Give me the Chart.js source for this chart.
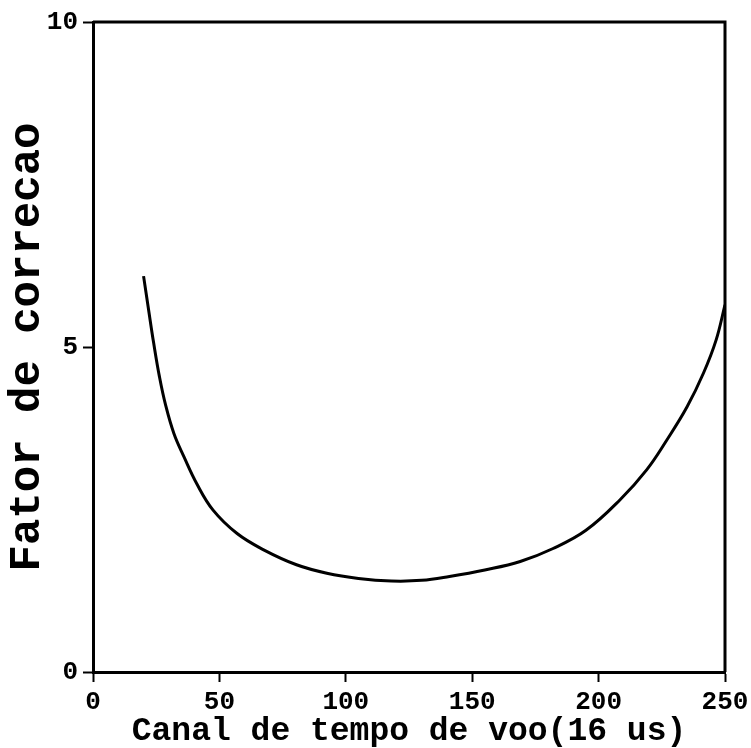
<!DOCTYPE html>
<html>
<head>
<meta charset="utf-8">
<script src="https://cdn.jsdelivr.net/npm/chart.js@4/dist/chart.umd.min.js"></script>
<style>
  html, body { margin: 0; padding: 0; background: #fff; }
  #wrap { width: 751px; height: 748px; position: relative; }
</style>
</head>
<body>
<div id="wrap"><canvas id="c" width="751" height="748"></canvas></div>
<script>
// Data
const channel = [20, 22, 24, 26.3, 28.7, 32, 36, 41, 47.5, 57, 67.5, 80.5, 92.5, 105, 118, 130, 141, 155, 169, 182, 195, 208.5, 219, 227, 235, 241.5, 246.5, 250];
const factor  = [6.09, 5.57, 5.06, 4.54, 4.11, 3.67, 3.31, 2.90, 2.49, 2.13, 1.88, 1.65, 1.52, 1.44, 1.40, 1.41, 1.47, 1.57, 1.70, 1.90, 2.18, 2.65, 3.11, 3.57, 4.08, 4.60, 5.11, 5.65];
const xTicks = [0, 50, 100, 150, 200, 250];
const yTicks = [0, 5, 10];
const xTitle = 'Canal de tempo de voo(16 us)';
const yTitle = 'Fator de correcao';

const points = channel.map((x, i) => ({ x: x, y: factor[i] }));

const framePlugin = {
  id: 'frame',
  afterDraw(chart) {
    const { ctx, chartArea: a } = chart;
    ctx.save();
    ctx.strokeStyle = '#000';
    ctx.lineWidth = 3;
    ctx.beginPath();
    ctx.moveTo(a.left, a.top);
    ctx.lineTo(a.right, a.top);
    ctx.lineTo(a.right, a.bottom);
    ctx.stroke();
    ctx.restore();
  }
};

const FONT = "'Liberation Mono', 'Courier New', monospace";

new Chart(document.getElementById('c'), {
  type: 'line',
  data: {
    datasets: [{
      data: points,
      borderColor: '#000',
      borderWidth: 3,
      pointRadius: 0,
      fill: false,
      tension: 0.4
    }]
  },
  options: {
    responsive: false,
    animation: false,
    layout: { padding: { left: 0, top: 22, right: 26, bottom: 0 } },
    plugins: { legend: { display: false }, tooltip: { enabled: false } },
    scales: {
      x: {
        type: 'linear',
        min: 0, max: 250,
        afterFit(s) { s.height = 76; s.paddingLeft = 0; s.paddingRight = 0; },
        afterBuildTicks(s) { s.ticks = xTicks.map(v => ({ value: v })); },
        border: { display: true, color: '#000', width: 3 },
        grid: { display: true, drawOnChartArea: false, drawTicks: true, tickLength: 10, tickWidth: 2, tickColor: '#000' },
        ticks: { color: '#000', padding: 7, maxRotation: 0, font: { family: FONT, weight: 'bold', size: 26, lineHeight: 1 } },
        title: { display: true, text: xTitle, color: '#000', padding: { top: 0, bottom: 3 }, font: { family: FONT, weight: 'bold', size: 33, lineHeight: 0.8 } }
      },
      y: {
        type: 'linear',
        min: 0, max: 10,
        afterFit(s) { s.width = 93; s.paddingTop = 0; s.paddingBottom = 0; },
        afterBuildTicks(s) { s.ticks = yTicks.map(v => ({ value: v })); },
        border: { display: true, color: '#000', width: 3 },
        grid: { display: true, drawOnChartArea: false, drawTicks: true, tickLength: 10, tickWidth: 2, tickColor: '#000' },
        ticks: { color: '#000', padding: 5, font: { family: FONT, weight: 'bold', size: 26, lineHeight: 1 } },
        title: { display: true, text: yTitle, color: '#000', padding: { top: 6, bottom: 0 }, font: { family: FONT, weight: 'bold', size: 44, lineHeight: 1 } }
      }
    }
  },
  plugins: [framePlugin]
});
</script>
</body>
</html>
